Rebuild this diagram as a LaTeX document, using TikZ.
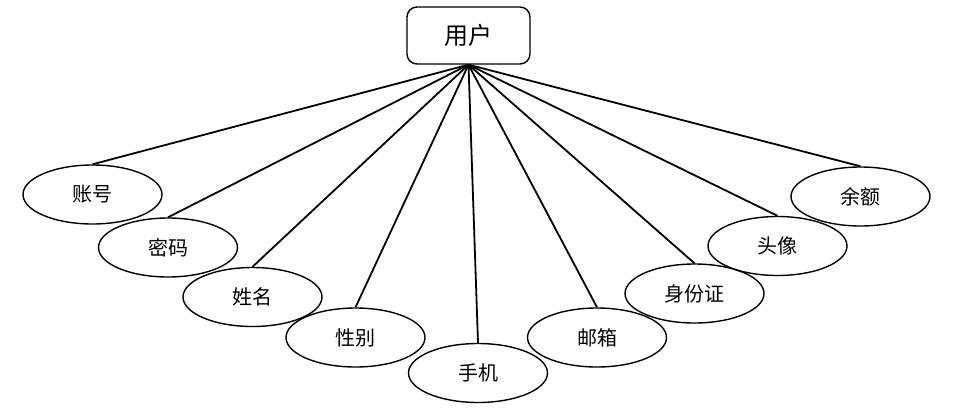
\documentclass[tikz,border=0pt]{standalone}
\usepackage{fontspec}
\setmainfont{Noto Sans CJK SC}
\usetikzlibrary{shapes.geometric}

\tikzset{
  shuxing/.style={draw,line width=1.4pt,ellipse,minimum width=139pt,minimum height=59pt,inner sep=0pt,font=\fontsize{20}{24}\selectfont},
  shiti/.style={draw,line width=1.4pt,rounded corners=10pt,minimum width=123pt,minimum height=57pt,inner sep=0pt,font=\fontsize{24}{28}\selectfont},
  lianxian/.style={line width=1.8pt}
}

\begin{document}
\begin{tikzpicture}[x=1pt,y=-1pt]
\useasboundingbox (0,0) rectangle (955,418);

\node[shiti] (yonghu) at (468.5,35.5) {用户};

\node[shuxing] (zhanghao) at (92.5,194.5) {账号};
\node[shuxing] (mima) at (168,247.5) {密码};
\node[shuxing] (xingming) at (252.5,297) {姓名};
\node[shuxing] (xingbie) at (355.5,337.5) {性别};
\node[shuxing] (shouji) at (478,373) {手机};
\node[shuxing] (youxiang) at (597,337.5) {邮箱};
\node[shuxing] (shenfenzheng) at (694.5,293.5) {身份证};
\node[shuxing] (touxiang) at (777.5,246) {头像};
\node[shuxing] (yue) at (860.5,196.5) {余额};

\draw[lianxian] (yonghu.south) -- (zhanghao.north);
\draw[lianxian] (yonghu.south) -- (mima.north);
\draw[lianxian] (yonghu.south) -- (xingming.north);
\draw[lianxian] (yonghu.south) -- (xingbie.north);
\draw[lianxian] (yonghu.south) -- (shouji.north);
\draw[lianxian] (yonghu.south) -- (youxiang.north);
\draw[lianxian] (yonghu.south) -- (shenfenzheng.north);
\draw[lianxian] (yonghu.south) -- (touxiang.north);
\draw[lianxian] (yonghu.south) -- (yue.north);
\end{tikzpicture}
\end{document}
